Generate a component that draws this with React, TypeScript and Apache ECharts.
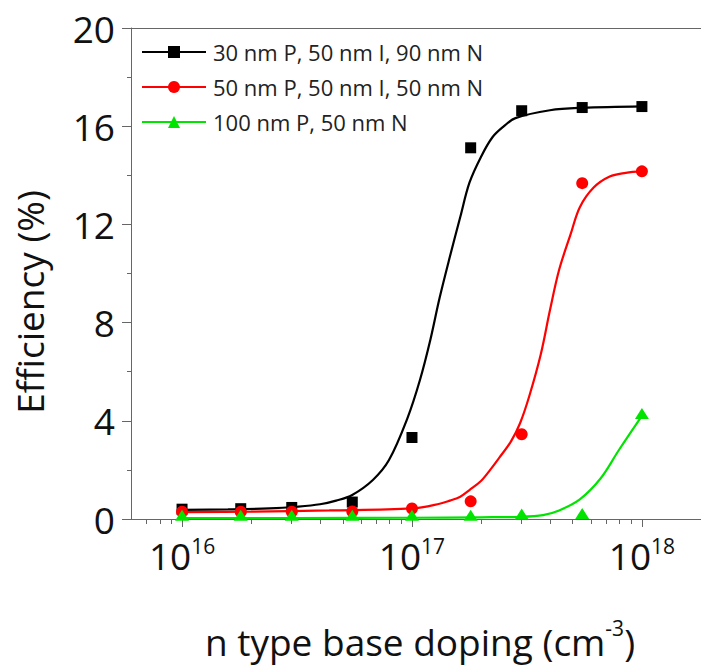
import React, { useEffect, useRef } from "react";
import * as echarts from "echarts";

// ---- data ----
const seriesNames = [
  "30 nm P, 50 nm I, 90 nm N",
  "50 nm P, 50 nm I, 50 nm N",
  "100 nm P, 50 nm N",
];
const seriesColors = ["#000000", "#ff0000", "#00e400"];
const seriesSymbols = ["rect", "circle", "triangle"];

// n-type base doping (cm^-3)
const dopings = [1e16, 1.8e16, 3e16, 5.5e16, 1e17, 1.8e17, 3e17, 5.5e17, 1e18];
// efficiency (%)
const effBlack = [0.4, 0.42, 0.47, 0.69, 3.32, 15.12, 16.63, 16.76, 16.8];
const effRed = [0.3, 0.3, 0.3, 0.31, 0.43, 0.72, 3.45, 13.68, 14.16];
const effGreen = [0.15, 0.15, 0.15, 0.15, 0.15, 0.15, 0.2, 0.22, 4.3];

// fitted curves: [log10(doping), efficiency]
const fitBlack = [
  [16.0, 0.37], [16.2, 0.39], [16.38, 0.43], [16.5, 0.5], [16.6, 0.6], [16.67, 0.75],
  [16.74, 0.98], [16.83, 1.59], [16.9, 2.4], [16.98, 4.1], [17.035, 5.67], [17.08, 7.3],
  [17.12, 9.0], [17.165, 10.69], [17.21, 12.3], [17.25, 13.7], [17.3, 14.75], [17.35, 15.55],
  [17.4, 16.0], [17.45, 16.33], [17.6, 16.65], [17.74, 16.75], [18.0, 16.81],
];
const fitRed = [
  [16.0, 0.28], [16.3, 0.3], [16.64, 0.35], [17.0, 0.43], [17.12, 0.62], [17.165, 0.75],
  [17.21, 0.91], [17.25, 1.18], [17.3, 1.55], [17.34, 2.0], [17.38, 2.5], [17.43, 3.15],
  [17.47, 3.9], [17.51, 5.0], [17.56, 6.7], [17.6, 8.5], [17.64, 10.15], [17.69, 11.6],
  [17.73, 12.7], [17.79, 13.5], [17.86, 13.95], [17.93, 14.1], [18.0, 14.17],
];
const fitGreen = [
  [16.0, 0.04], [16.5, 0.04], [17.0, 0.05], [17.3, 0.07], [17.47, 0.09], [17.57, 0.16],
  [17.64, 0.35], [17.73, 0.8], [17.82, 1.65], [17.9, 2.81], [18.0, 4.2],
];

const xMajorExps = [16, 17, 18];
const yTicks = { min: 0, max: 20, interval: 4 };

const effSets = [effBlack, effRed, effGreen];
const fitSets = [fitBlack, fitRed, fitGreen];

const FONT = "'Open Sans', 'DejaVu Sans', sans-serif";
const AXIS_COLOR = "#666666";
const X_MIN = 15.778;
const X_MAX = 18.257;

function minorExps(): number[] {
  const out: number[] = [];
  for (let n = 15; n <= 18; n++) {
    for (let k = 2; k <= 9; k++) {
      const e = n + Math.log10(k);
      if (e > X_MIN + 0.001 && e < X_MAX) out.push(e);
    }
  }
  return out;
}

export default function App() {
  const ref = useRef<HTMLDivElement>(null);
  useEffect(() => {
    if (!ref.current) return;
    const chart = echarts.init(ref.current, undefined, { renderer: "svg" });

    const series: any[] = [];
    for (let i = 0; i < 3; i++) {
      series.push({
        type: "line",
        data: fitSets[i],
        symbol: "none",
        smooth: 0.35,
        silent: true,
        lineStyle: { color: seriesColors[i], width: 2.2 },
        z: 2 + i * 2,
      });
      series.push({
        name: seriesNames[i],
        type: "line",
        data: dopings.map((d, j) => [Math.log10(d), effSets[i][j]]),
        symbol: seriesSymbols[i],
        symbolSize: i === 2 ? [14, 11] : i === 0 ? 11 : 12,
        itemStyle: { color: seriesColors[i] },
        lineStyle: { color: seriesColors[i], opacity: 0, width: 2 },
        z: 3 + i * 2,
      });
    }

    chart.setOption({
      animation: false,
      grid: { left: 131, top: 28, right: 0, bottom: 148, containLabel: false },
      legend: {
        show: true,
        orient: "vertical",
        left: 141,
        top: 40,
        padding: 0,
        itemWidth: 64,
        itemHeight: 15,
        itemGap: 11,
        textStyle: { fontSize: 22, fontFamily: FONT, color: "#222", lineHeight: 24, padding: [0, 0, 0, 2] },
        data: seriesNames.map((n) => ({ name: n, lineStyle: { opacity: 1, width: 2 } })),
      },
      xAxis: [
        {
          type: "value",
          min: X_MIN,
          max: X_MAX,
          position: "bottom",
          axisLine: { show: true, onZero: false, lineStyle: { color: AXIS_COLOR, width: 1 } },
          axisTick: { show: true, customValues: xMajorExps, length: 8, lineStyle: { color: AXIS_COLOR } },
          axisLabel: {
            show: true,
            customValues: xMajorExps,
            margin: 16,
            formatter: (v: number) => `{b|10}{s|${Math.round(v)}}`,
            rich: {
              b: { fontSize: 37, fontFamily: FONT, color: "#111", lineHeight: 40 },
              s: { fontSize: 21, fontFamily: FONT, color: "#111", lineHeight: 20, verticalAlign: "top" },
            },
          },
          splitLine: { show: false },
        },
        {
          type: "value",
          min: X_MIN,
          max: X_MAX,
          position: "bottom",
          axisLine: { show: false, onZero: false },
          axisTick: { show: true, customValues: minorExps(), length: 5, lineStyle: { color: AXIS_COLOR } },
          axisLabel: { show: false },
          splitLine: { show: false },
        },
        {
          type: "value",
          min: X_MIN,
          max: X_MAX,
          position: "top",
          axisLine: { show: true, onZero: false, lineStyle: { color: AXIS_COLOR, width: 1 } },
          axisTick: { show: false },
          axisLabel: { show: false },
          splitLine: { show: false },
        },
      ],
      yAxis: {
        type: "value",
        min: yTicks.min,
        max: yTicks.max,
        interval: yTicks.interval,
        axisLine: { show: true, onZero: false, lineStyle: { color: AXIS_COLOR, width: 1 } },
        axisTick: { show: true, length: 9, lineStyle: { color: AXIS_COLOR } },
        minorTick: { show: true, splitNumber: 2, length: 4, lineStyle: { color: AXIS_COLOR } },
        axisLabel: { fontSize: 37, fontFamily: FONT, color: "#111", margin: 16 },
        splitLine: { show: false },
        minorSplitLine: { show: false },
      },
      graphic: [
        {
          type: "text",
          x: 29,
          y: 302,
          rotation: Math.PI / 2,
          style: {
            text: "Efficiency (%)",
            fontSize: 37,
            fontFamily: FONT,
            fill: "#111",
            align: "center",
            verticalAlign: "middle",
          },
        },
        {
          type: "text",
          x: 420,
          y: 641,
          style: {
            text: "{a|n type base doping (cm}{s|-3}{a|)}",
            align: "center",
            verticalAlign: "middle",
            rich: {
              a: { fontSize: 37, fontFamily: FONT, fill: "#111", lineHeight: 48 },
              s: { fontSize: 21, fontFamily: FONT, fill: "#111", lineHeight: 18, verticalAlign: "top" },
            },
          },
        },
      ],
      series,
    });
    return () => chart.dispose();
  }, []);
  return (
    <div
      ref={ref}
      style={{ position: "absolute", left: 0, top: 0, width: 701, height: 667, background: "#fff" }}
    />
  );
}
